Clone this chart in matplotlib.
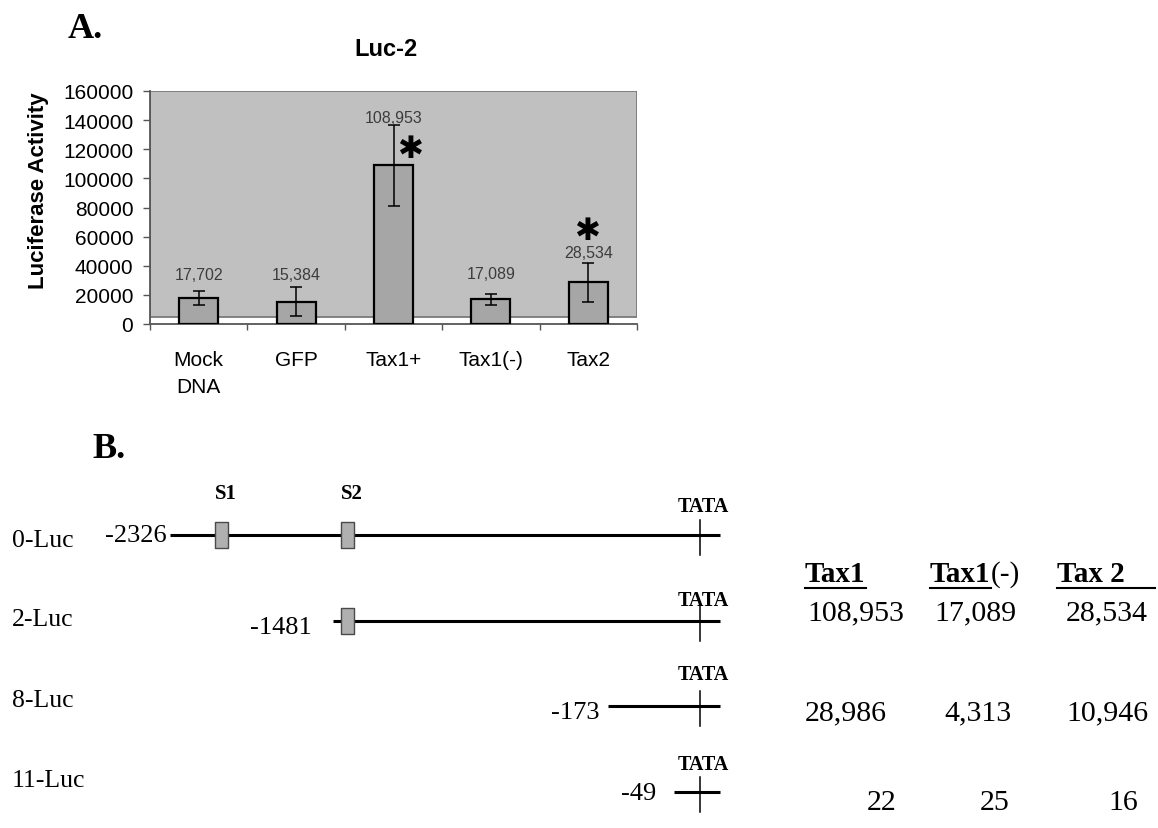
import numpy as np
import matplotlib
matplotlib.use('Agg')
import matplotlib.pyplot as plt
from matplotlib.patches import Rectangle
from matplotlib.path import Path
from matplotlib.textpath import TextPath
from matplotlib.font_manager import FontProperties
from matplotlib.lines import Line2D

SANS = 'Liberation Sans'
SERIF = 'Liberation Serif'
plt.rcParams['font.family'] = SANS

# ---------------- data ----------------
# Panel A: Luc-2 luciferase activity
categories = ['Mock\nDNA', 'GFP', 'Tax1+', 'Tax1(-)', 'Tax2']
luc2_means = [17702, 15384, 108953, 17089, 28534]
luc2_errors = [4800, 10000, 27600, 3800, 13100]
significant = [False, False, True, False, True]
y_ticks = [0, 20000, 40000, 60000, 80000, 100000, 120000, 140000, 160000]

# Panel B: promoter constructs
constructs = ['0-Luc', '2-Luc', '8-Luc', '11-Luc']
construct_starts = [-2326, -1481, -173, -49]
construct_end = 1
tata_position = -30
sites = ['S1', 'S2']
site_positions = [-2062, -1414]

table_columns = ['Tax1', 'Tax1(-)', 'Tax 2']
table_tax1 = [108953, 28986, 22]
table_tax1_neg = [17089, 4313, 25]
table_tax2 = [28534, 10946, 16]

# ---------------- figure ----------------
W, H = 1158, 829
fig = plt.figure(figsize=(W / 100, H / 100), dpi=100)
PX = 72 / 100  # points per pixel


def fx(px):
    return px / W


def fy(py):
    return 1 - py / H


# ================= Panel A =================
ax = fig.add_axes([fx(150), fy(325), (637 - 150) / W, (325 - 92) / H])
x = np.arange(len(categories))
ax.set_xlim(-0.5, len(categories) - 0.5)
ax.set_ylim(y_ticks[0], y_ticks[-1])

ax.add_patch(Rectangle((0, 0.03), 1, 0.97, transform=ax.transAxes,
                       facecolor='#c0c0c0', edgecolor='#7a7a7a', lw=1.3, zorder=0))

ax.bar(x, luc2_means, width=0.4, color='#a6a6a6', edgecolor='black',
       linewidth=1.6, zorder=3, yerr=luc2_errors,
       error_kw=dict(ecolor='black', elinewidth=1.1, capsize=4, capthick=1.1, zorder=4))

for s in ['top', 'right']:
    ax.spines[s].set_visible(False)
for s in ['left', 'bottom']:
    ax.spines[s].set_color('#555555')
    ax.spines[s].set_linewidth(1.3)

ax.set_yticks(y_ticks)
ax.set_yticklabels([str(t) for t in y_ticks])
ax.tick_params(axis='y', direction='out', length=5, width=1, color='#555555',
               pad=7, labelsize=15)
ax.set_xticks(x)
ax.set_xticklabels(categories)
for lbl in ax.get_xticklabels():
    lbl.set_linespacing(1.5)
ax.tick_params(axis='x', which='major', length=0, pad=19, labelsize=15)
ax.set_xticks(np.arange(-0.5, len(categories)), minor=True)
ax.tick_params(axis='x', which='minor', length=4.5, width=1, color='#555555',
               direction='out')

ax.set_ylabel('Luciferase Activity', fontsize=16, fontweight='bold')
ax.yaxis.set_label_coords((49 - 150) / 487, 0.575)

# value labels above error bars
label_rise_px = [17, 13, 8, 20, 11]
for i, (m, e) in enumerate(zip(luc2_means, luc2_errors)):
    ax.annotate(f'{m:,}', xy=(i, m + e), xytext=(0, label_rise_px[i] * PX),
                textcoords='offset points', ha='center', va='center',
                fontsize=11.5, color='#3c3c3c', zorder=5)

# significance asterisks (heavy six-spoked asterisk glyph)
STAR = '\u2731'
star_prop = FontProperties(family='DejaVu Sans')
tp = TextPath((0, 0), STAR, size=1, prop=star_prop)
ext = tp.get_extents()
star_fs = (22 * PX) / ext.width
cx = (ext.x0 + ext.x1) / 2 * star_fs
cy = (ext.y0 + ext.y1) / 2 * star_fs
star_offsets_px = {2: (17, 20), 4: (-1, 55)}
for i, sig in enumerate(significant):
    if sig:
        dx, dy = star_offsets_px[i]
        ax.annotate(STAR, xy=(i, luc2_means[i]),
                    xytext=(dx * PX - cx, dy * PX - cy),
                    textcoords='offset points', ha='left', va='baseline',
                    fontproperties=star_prop, fontsize=star_fs, zorder=6)

fig.text(fx(386), fy(50), 'Luc-2', ha='center', va='center', fontsize=17,
         fontweight='bold')
fig.text(fx(68), fy(30), 'A.', ha='left', va='center', fontsize=26,
         fontweight='bold', family=SERIF)

# ================= Panel B =================
bp_anchor = np.array(sorted(construct_starts) + [tata_position, construct_end], float)
px_anchor = np.array([170, 333, 608, 674, 700, 720], float)


def _pw(v, xs, ys):
    v = np.asarray(v, float)
    out = np.interp(v, xs, ys)
    lo = (ys[1] - ys[0]) / (xs[1] - xs[0])
    hi = (ys[-1] - ys[-2]) / (xs[-1] - xs[-2])
    out = np.where(v < xs[0], ys[0] + (v - xs[0]) * lo, out)
    out = np.where(v > xs[-1], ys[-1] + (v - xs[-1]) * hi, out)
    return out


def fwd(v):
    return _pw(v, bp_anchor, px_anchor)


def inv(v):
    return _pw(v, px_anchor, bp_anchor)


ROW_TOP, ROW_BOT = 536.4, 792.6
ROW = (ROW_BOT - ROW_TOP) / (len(constructs) - 1)
axb = fig.add_axes([fx(170), fy(ROW_BOT), (720 - 170) / W, (ROW_BOT - ROW_TOP) / H])
axb.set_xscale('function', functions=(fwd, inv))
axb.set_xlim(construct_starts[0], construct_end)
axb.set_ylim(len(constructs) - 1, 0)
axb.axis('off')

fig.text(fx(92), fy(450), 'B.', ha='left', va='center', fontsize=26,
         fontweight='bold', family=SERIF)

row_label_y = [541, 620, 701, 781]
start_gap_px = [3, 21, 8, 18]
start_drop_px = [0, 6, 6, 1]
tata_rise_px = [29, 21, 32, 28]

rect_marker = Path([(-0.25, -0.5), (0.25, -0.5), (0.25, 0.5), (-0.25, 0.5), (-0.25, -0.5)],
                   [Path.MOVETO, Path.LINETO, Path.LINETO, Path.LINETO, Path.CLOSEPOLY])

for i, (name, start) in enumerate(zip(constructs, construct_starts)):
    fig.text(fx(12), fy(row_label_y[i]), name, ha='left', va='center',
             fontsize=18.5, family=SERIF)
    axb.plot([start, construct_end], [i, i], color='black', lw=2.2,
             solid_capstyle='butt', clip_on=False, zorder=2)
    axb.plot([tata_position, tata_position], [i - 15 / ROW, i + 20 / ROW],
             color='black', lw=1.1, clip_on=False, zorder=3)
    axb.annotate('TATA', xy=(tata_position, i),
                 xytext=(3 * PX, tata_rise_px[i] * PX), textcoords='offset points',
                 ha='center', va='center', fontsize=14.5, fontweight='bold',
                 family=SERIF, annotation_clip=False)
    axb.annotate(f'{start}', xy=(start, i),
                 xytext=(-start_gap_px[i] * PX, -start_drop_px[i] * PX),
                 textcoords='offset points', ha='right', va='center',
                 fontsize=19, family=SERIF, annotation_clip=False)
    for sname, spos in zip(sites, site_positions):
        if start < spos:
            axb.plot([spos], [i], marker=rect_marker, ms=26 * PX, mfc='#b0b0b0',
                     mec='#4a4a4a', mew=1.0, ls='none', clip_on=False, zorder=4)

for sname, spos in zip(sites, site_positions):
    axb.annotate(sname, xy=(spos, 0), xytext=(5 * PX, 42 * PX),
                 textcoords='offset points', ha='center', va='center',
                 fontsize=15, fontweight='bold', family=SERIF,
                 annotation_clip=False)

# ---------------- table ----------------
header_y = 575
underline_y = 589
header_left = [805, 930, 1057]
row_y = [613, 713, 803]
cell_x = [[856, 846, 882], [975, 978, 995], [1107, 1107, 1123]]
columns_values = [table_tax1, table_tax1_neg, table_tax2]

fig.canvas.draw()
renderer = fig.canvas.get_renderer()
for c, col in enumerate(table_columns):
    if col.endswith('(-)'):
        bold_part, rest = col[:-3], '(-)'
    else:
        bold_part, rest = col, ''
    t = fig.text(fx(header_left[c]), fy(header_y), bold_part, ha='left', va='center',
                 fontsize=21, fontweight='bold', family=SERIF)
    bb = t.get_window_extent(renderer)
    if rest:
        fig.text(bb.x1 / W, fy(header_y), rest, ha='left', va='center',
                 fontsize=21, family=SERIF)
    x1 = bb.x1 if c < len(table_columns) - 1 else 1155
    fig.add_artist(Line2D([bb.x0 / W, x1 / W], [fy(underline_y)] * 2,
                          transform=fig.transFigure, color='black', lw=1.5))
    for r, v in enumerate(columns_values[c]):
        fig.text(fx(cell_x[c][r]), fy(row_y[r]), f'{v:,}', ha='center', va='center',
                 fontsize=21.5, family=SERIF)

fig.savefig('out.png', dpi=100)
